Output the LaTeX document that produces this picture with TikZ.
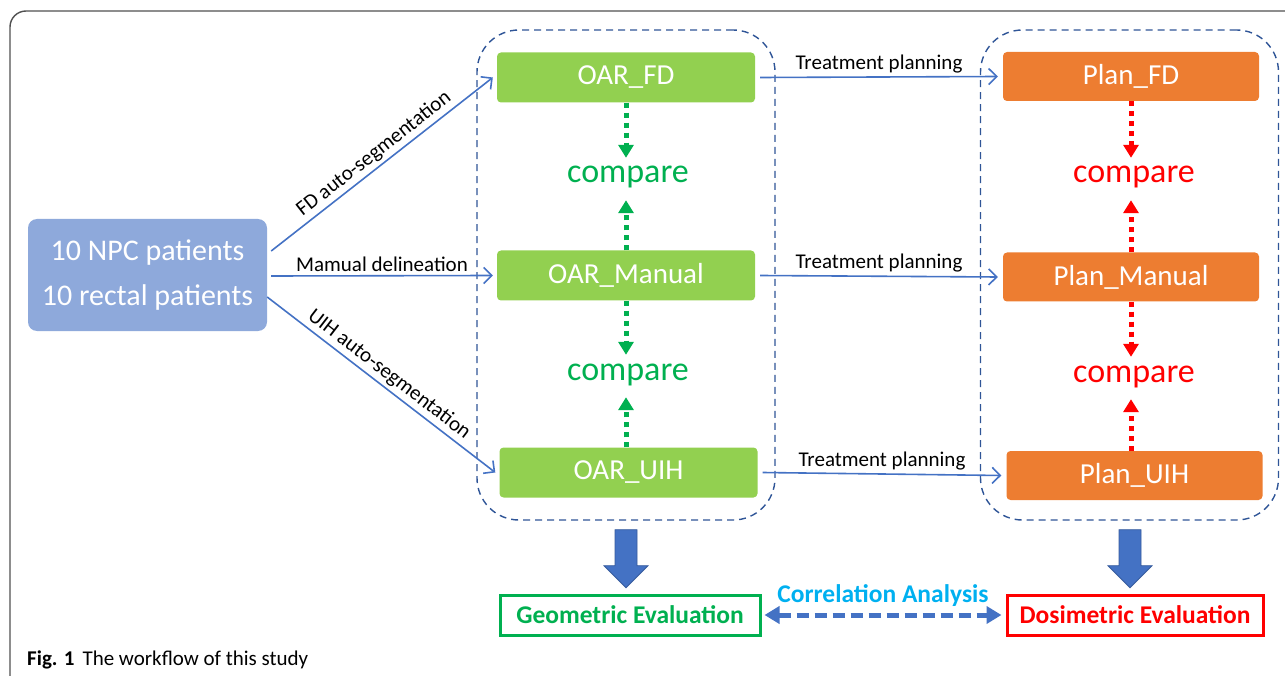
\documentclass[tikz,border=0pt]{standalone}
\usepackage{fontspec}
\setmainfont{Carlito}
\usetikzlibrary{arrows.meta}

\definecolor{patblue}{HTML}{8EA9DB}
\definecolor{oargreen}{HTML}{92D050}
\definecolor{cmpgreen}{HTML}{00B050}
\definecolor{planorange}{HTML}{ED7D31}
\definecolor{cmpred}{HTML}{FF0000}
\definecolor{linkblue}{HTML}{4472C4}
\definecolor{groupblue}{HTML}{2F5597}
\definecolor{corrblue}{HTML}{00B0F0}
\definecolor{framegray}{HTML}{505050}

\newcommand{\fsz}[1]{\fontsize{#1}{#1}\selectfont}

\begin{document}
\begin{tikzpicture}[x=1pt,y=-1pt,
  patbox/.style={fill=patblue, rounded corners=9pt, minimum width=239pt, minimum height=112pt,
    text=white, align=center, font=\fontsize{30}{45}\selectfont},
  oarbox/.style={fill=oargreen, rounded corners=4pt, minimum width=258pt, minimum height=50pt,
    text=white, font=\fsz{29}, inner sep=0pt},
  planbox/.style={fill=planorange, rounded corners=4pt, minimum width=256pt, minimum height=49pt,
    text=white, font=\fsz{29}, inner sep=0pt},
  cmpnode/.style={font=\fsz{34}, inner sep=0pt, text height=15pt, text depth=7pt, minimum height=42pt},
  group/.style={draw=groupblue, line width=1.4pt, dash pattern=on 7pt off 5pt, rounded corners=42pt,
    minimum width=298pt, minimum height=490pt},
  link/.style={draw=linkblue, line width=1.6pt, -{Straight Barb[length=8pt,width=16pt,line width=1.6pt]}},
  lbl/.style={font=\fsz{21}, text=black, inner sep=3pt},
  dotarrow/.style={line width=5pt, dash pattern=on 5pt off 5pt, -{Triangle[width=15pt,length=13pt]}},
  evalbox/.style={line width=3pt, minimum height=40pt, font=\bfseries\fsz{25.5}, inner sep=0pt},
  blockarrow/.style={fill=linkblue, draw=linkblue!80!black, line width=0.8pt},
]
\useasboundingbox (0,0) rectangle (1285,676);

% outer frame (only top and left edges inside the picture)
\draw[framegray, line width=1.4pt, rounded corners=16pt] (10,676) -- (10,11) -- (1285,11);

% dashed groups
\node[group] (grpL) at (626,275) {};
\node[group] (grpR) at (1129.5,275) {};

% input patients
\node[patbox] (pat) at (147.5,275) {10 NPC patients\\10 rectal patients};

% contours
\node[oarbox] (oarfd)  at (626,77.5)  {OAR\_FD};
\node[oarbox] (oarman) at (626,275.5) {OAR\_Manual};
\node[oarbox] (oaruih) at (628.5,472.5) {OAR\_UIH};

% plans
\node[planbox] (planfd)  at (1131,76.5)  {Plan\_FD};
\node[planbox] (planman) at (1131,277)   {Plan\_Manual};
\node[planbox] (planuih) at (1134.5,475.5) {Plan\_UIH};

% compare labels
\node[cmpnode, text=cmpgreen] (cmpG1) at (628,179) {compare};
\node[cmpnode, text=cmpgreen] (cmpG2) at (628,376) {compare};
\node[cmpnode, text=cmpred] (cmpR1) at (1134,179) {compare};
\node[cmpnode, text=cmpred] (cmpR2) at (1134,378) {compare};

% segmentation arrows
\draw[link] ([shift={(4,-24)}]pat.east) -- node[lbl, sloped, above, pos=0.5] {FD auto-segmentation} ([xshift=-4pt]oarfd.west);
\draw[link] ([shift={(4,1)}]pat.east) -- node[lbl, above] {Mamual delineation} ([xshift=-4pt]oarman.west);
\draw[link] ([shift={(0,22)}]pat.east) -- node[lbl, sloped, above, pos=0.5] {UIH auto-segmentation} ([xshift=-4pt]oaruih.west);

% treatment planning arrows
\draw[link] ([xshift=5pt]oarfd.east) -- node[lbl, above] {Treatment planning} ([xshift=-5pt]planfd.west);
\draw[link] ([xshift=5pt]oarman.east) -- node[lbl, above] {Treatment planning} ([xshift=-5pt]planman.west);
\draw[link] ([xshift=5pt]oaruih.east) -- node[lbl, above] {Treatment planning} ([xshift=-5pt]planuih.west);

% dotted compare arrows
\draw[dotarrow, cmpgreen] (oarfd.south) -- (oarfd.south |- cmpG1.north);
\draw[dotarrow, cmpgreen] (oarman.north) -- (oarman.north |- cmpG1.south);
\draw[dotarrow, cmpgreen] (oarman.south) -- (oarman.south |- cmpG2.north);
\draw[dotarrow, cmpgreen] (oaruih.north -| oarman.north) -- (oarman.north |- cmpG2.south);
\draw[dotarrow, cmpred] (planfd.south) -- (planfd.south |- cmpR1.north);
\draw[dotarrow, cmpred] (planman.north) -- (planman.north |- cmpR1.south);
\draw[dotarrow, cmpred] (planman.south) -- (planman.south |- cmpR2.north);
\draw[dotarrow, cmpred] (planuih.north -| planman.north) -- (planman.north |- cmpR2.south);

% evaluations
\node[evalbox, draw=cmpgreen, text=cmpgreen, minimum width=260pt] (geo) at (630,615) {Geometric Evaluation};
\node[evalbox, draw=cmpred, text=cmpred, minimum width=256pt] (dos) at (1135,615) {Dosimetric Evaluation};

% block arrows from groups to evaluations
\draw[blockarrow] ([shift={(-11,9)}]grpL.south) -- ++(22,0) -- ++(0,36) -- ++(11,0) -- ++(-22,22)
  -- ++(-22,-22) -- ++(11,0) -- cycle;
\draw[blockarrow] ([shift={(-10.5,9)}]grpR.south) -- ++(22,0) -- ++(0,36) -- ++(11,0) -- ++(-22,22)
  -- ++(-22,-22) -- ++(11,0) -- cycle;

% correlation
\draw[linkblue, line width=5pt, dash pattern=on 12pt off 6pt,
  {Triangle[width=17pt,length=15pt]}-{Triangle[width=17pt,length=15pt]}]
  ([xshift=3pt]geo.east) -- node[above=6pt, font=\bfseries\fsz{25.5}, text=corrblue, inner sep=0pt] {Correlation Analysis} ([xshift=-4pt]dos.west);

% caption
\node[anchor=base west, inner sep=0pt, font=\fsz{21}] (cap) at (27,665) {\textbf{Fig. 1}\hspace{8pt}The workflow of this study};
\end{tikzpicture}
\end{document}
